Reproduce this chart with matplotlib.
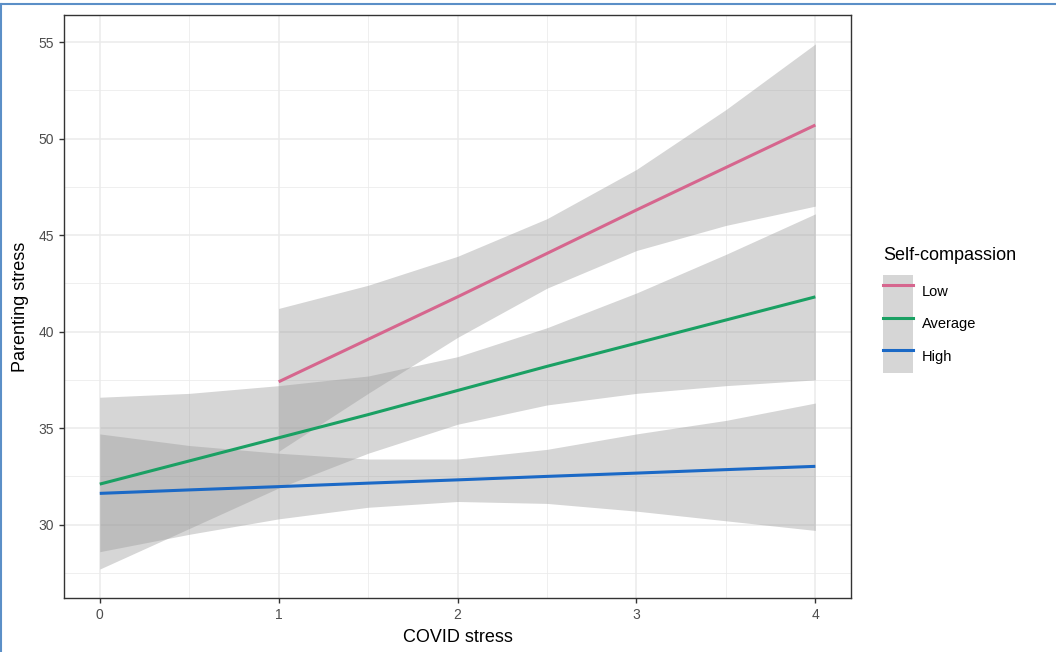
import matplotlib
matplotlib.use('Agg')
import matplotlib.pyplot as plt
from matplotlib.lines import Line2D
from matplotlib.patches import Patch
from matplotlib.ticker import MultipleLocator

plt.rcParams['font.family'] = ['Liberation Sans', 'DejaVu Sans']

# --- datos ---
x_full = [0, 0.5, 1, 1.5, 2, 2.5, 3, 3.5, 4]
x_low = [1, 1.5, 2, 2.5, 3, 3.5, 4]

high_fit = [31.62, 31.8, 31.97, 32.15, 32.32, 32.5, 32.67, 32.85, 33.02]
high_upper = [34.7, 34.1, 33.7, 33.4, 33.4, 33.9, 34.7, 35.4, 36.3]
high_lower = [28.6, 29.5, 30.3, 30.9, 31.2, 31.1, 30.7, 30.2, 29.7]

avg_fit = [32.1, 33.3, 34.5, 35.7, 36.95, 38.2, 39.4, 40.6, 41.8]
avg_upper = [36.6, 36.8, 37.2, 37.7, 38.7, 40.2, 42.0, 44.0, 46.1]
avg_lower = [27.7, 29.8, 31.9, 33.7, 35.2, 36.2, 36.8, 37.2, 37.5]

low_fit = [37.4, 39.6, 41.8, 44.05, 46.3, 48.5, 50.7]
low_upper = [41.2, 42.4, 43.9, 45.85, 48.4, 51.5, 54.9]
low_lower = [33.8, 36.8, 39.7, 42.25, 44.2, 45.5, 46.5]

groups = ['Low', 'Average', 'High']
colores = {'Low': '#d6668e', 'Average': '#1aa063', 'High': '#1b69c6'}

series = {
    'Low': (x_low, low_fit, low_lower, low_upper),
    'Average': (x_full, avg_fit, avg_lower, avg_upper),
    'High': (x_full, high_fit, high_lower, high_upper),
}

fig = plt.figure(figsize=(10.56, 6.52), dpi=100)
ax = fig.add_axes([0.0606, 0.0828, 0.7454, 0.8942])

# cintas de confianza primero, luego las lineas
for g in ['High', 'Average', 'Low']:
    xs, fit, lo, up = series[g]
    ax.fill_between(xs, lo, up, color='#999999', alpha=0.4, linewidth=0)
for g in ['High', 'Average', 'Low']:
    xs, fit, lo, up = series[g]
    ax.plot(xs, fit, color=colores[g], linewidth=2.2, solid_capstyle='butt')

ax.set_xlim(-0.2, 4.2)
ax.set_ylim(26.2, 56.4)
ax.xaxis.set_major_locator(MultipleLocator(1))
ax.xaxis.set_minor_locator(MultipleLocator(0.5))
ax.yaxis.set_major_locator(MultipleLocator(5))
ax.yaxis.set_minor_locator(MultipleLocator(2.5))
ax.grid(which='major', color='#ebebeb', linewidth=1.1)
ax.grid(which='minor', color='#ebebeb', linewidth=0.55)
ax.set_axisbelow(True)

for s in ax.spines.values():
    s.set_color('#333333')
    s.set_linewidth(1.0)
ax.tick_params(which='major', length=3.5, width=1.0, color='#333333',
               labelcolor='#4d4d4d', labelsize=10)
ax.tick_params(which='minor', length=0)

ax.set_xlabel('COVID stress', fontsize=13, color='black', labelpad=5)
ax.set_ylabel('Parenting stress', fontsize=13, color='black', labelpad=7)

# leyenda (titulo aparte para controlar el espacio)
handles = []
for g in groups:
    handles.append((Patch(facecolor='#999999', alpha=0.4, edgecolor='none'),
                    Line2D([], [], color=colores[g], linewidth=2.2)))
leg = fig.legend(handles, groups, loc='upper left',
                 bbox_to_anchor=(0.836, 0.578), frameon=False,
                 fontsize=10.5,
                 handlelength=2.1, handleheight=3.05, labelspacing=0,
                 handletextpad=0.6, borderpad=0, borderaxespad=0)
fig.text(0.836, 1 - 255 / 652, 'Self-compassion', fontsize=13,
         ha='left', va='center')

# marco azul de la captura
fig.add_artist(Line2D([0, 1], [0.994, 0.994], color='#5b8fc7', linewidth=1.5,
                      transform=fig.transFigure))
fig.add_artist(Line2D([0.0012, 0.0012], [0, 0.994], color='#5b8fc7', linewidth=1.5,
                      transform=fig.transFigure))

fig.savefig('out.png', dpi=100)
